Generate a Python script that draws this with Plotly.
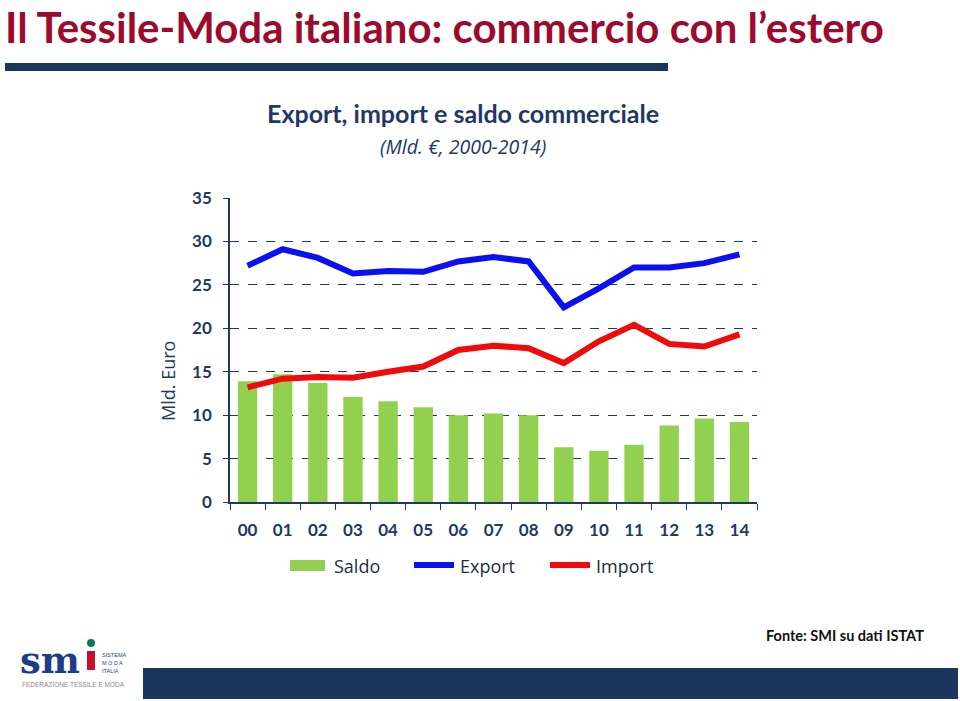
import plotly.graph_objects as go

years = ["00", "01", "02", "03", "04", "05", "06", "07", "08", "09", "10", "11", "12", "13", "14"]
saldo = [13.9, 14.7, 13.7, 12.1, 11.6, 10.9, 10.0, 10.2, 10.0, 6.3, 5.9, 6.6, 8.8, 9.6, 9.2]
export = [27.2, 29.1, 28.1, 26.3, 26.6, 26.5, 27.7, 28.2, 27.7, 22.4, 24.6, 27.0, 27.0, 27.5, 28.5]
imports = [13.2, 14.2, 14.4, 14.3, 15.0, 15.6, 17.5, 18.0, 17.7, 16.0, 18.5, 20.4, 18.2, 17.9, 19.3]
y_ticks = [0, 5, 10, 15, 20, 25, 30, 35]

NAVY = "#1F3864"
W, H = 960, 701

fig = go.Figure()
fig.add_trace(go.Bar(x=years, y=saldo, name="Saldo", marker=dict(color="#92D050", line=dict(width=0)),
                     width=0.55, showlegend=False))
fig.add_trace(go.Scatter(x=years, y=export, name="Export", mode="lines",
                         line=dict(color="#0A10F0", width=6), showlegend=False))
fig.add_trace(go.Scatter(x=years, y=imports, name="Import", mode="lines",
                         line=dict(color="#F00A0A", width=6), showlegend=False))

fig.update_layout(
    width=W, height=H,
    margin=dict(l=230, r=203, t=198, b=199),
    paper_bgcolor="white", plot_bgcolor="white",
    bargap=0.45,
    font=dict(family="Lato, Open Sans, sans-serif", color=NAVY),
)
fig.update_yaxes(
    range=[0, 35], tickvals=y_ticks, showgrid=True, gridcolor=NAVY, griddash="dash", gridwidth=1,
    showline=True, linecolor=NAVY, linewidth=1.5, ticks="outside", ticklen=5, tickcolor=NAVY,
    tickfont=dict(size=17, color=NAVY, family="Lato, sans-serif", weight="bold"),
    zeroline=False, ticklabelstandoff=8,
)
fig.update_xaxes(
    type="category", showline=True, linecolor=NAVY, linewidth=1.5, ticks="outside", ticklen=6,
    tickcolor=NAVY, tickson="boundaries", showgrid=False,
    tickfont=dict(size=17, color=NAVY, family="Lato, sans-serif", weight="bold"),
    ticklabelstandoff=12,
)


def px(x):
    return (x - 230) / 527


def py(y):
    return (502 - y) / 304


shapes = []
anns = []
# top bar and bottom bar
shapes.append(dict(type="rect", xref="paper", yref="paper", x0=px(5), x1=px(668), y0=py(71), y1=py(63),
                   fillcolor="#1A365E", line=dict(width=0), layer="above"))
shapes.append(dict(type="rect", xref="paper", yref="paper", x0=px(143), x1=px(958), y0=py(699), y1=py(668),
                   fillcolor="#1B365D", line=dict(width=0), layer="above"))

# legend
shapes.append(dict(type="rect", xref="paper", yref="paper", x0=px(290), x1=px(325), y0=py(571), y1=py(560),
                   fillcolor="#92D050", line=dict(width=0)))
shapes.append(dict(type="line", xref="paper", yref="paper", x0=px(414), x1=px(454), y0=py(565), y1=py(565),
                   line=dict(color="#0A10F0", width=6)))
shapes.append(dict(type="line", xref="paper", yref="paper", x0=px(550), x1=px(590), y0=py(565), y1=py(565),
                   line=dict(color="#F00A0A", width=6)))
for txt, x in [("Saldo", 332), ("Export", 458), ("Import", 594)]:
    anns.append(dict(text=txt, xref="paper", yref="paper", x=px(x), y=py(566), xanchor="left", yanchor="middle",
                     showarrow=False, font=dict(size=18, color="#1F2D3D", family="Open Sans, sans-serif")))

# y-axis title
anns.append(dict(text="Mld. Euro", xref="paper", yref="paper", x=px(168), y=py(381), xanchor="center",
                 yanchor="middle", textangle=-90, showarrow=False,
                 font=dict(size=18, color=NAVY, family="Open Sans, sans-serif")))

# titles
anns.append(dict(text="<b>Il Tessile-Moda italiano: commercio con l’estero</b>", xref="paper", yref="paper",
                 x=px(3), y=py(27), xanchor="left", yanchor="middle", showarrow=False,
                 font=dict(size=42, color="#9C0A2E", family="Lato, sans-serif")))
anns.append(dict(text="<b>Export, import e saldo commerciale</b>", xref="paper", yref="paper",
                 x=px(463), y=py(113), xanchor="center", yanchor="middle", showarrow=False,
                 font=dict(size=25, color=NAVY, family="Lato, sans-serif")))
anns.append(dict(text="<i>(Mld. €, 2000-2014)</i>", xref="paper", yref="paper",
                 x=px(463), y=py(146), xanchor="center", yanchor="middle", showarrow=False,
                 font=dict(size=19.5, color=NAVY, family="Open Sans, sans-serif")))
anns.append(dict(text="<b>Fonte: SMI su dati ISTAT</b>", xref="paper", yref="paper",
                 x=px(926), y=py(635), xanchor="right", yanchor="middle", showarrow=False,
                 font=dict(size=14.5, color="#111111", family="Lato, sans-serif")))

# logo
anns.append(dict(text="<b>sm</b>", xref="paper", yref="paper", x=px(18), y=py(660), xanchor="left",
                 yanchor="middle", showarrow=False,
                 font=dict(size=37, color="#1F3C88", family="DejaVu Serif, serif")))
shapes.append(dict(type="rect", xref="paper", yref="paper", x0=px(87), x1=px(95), y0=py(670), y1=py(651),
                   fillcolor="#C8102E", line=dict(width=0)))
shapes.append(dict(type="circle", xref="paper", yref="paper", x0=px(87), x1=px(95), y0=py(647), y1=py(639),
                   fillcolor="#0B7A4B", line=dict(width=0)))
for txt, y in [("SISTEMA", 655), ("M O D A", 663), ("ITALIA", 671)]:
    anns.append(dict(text=txt, xref="paper", yref="paper", x=px(100), y=py(y), xanchor="left", yanchor="middle",
                     showarrow=False, font=dict(size=5.5, color="#1F3C88", family="Liberation Sans, sans-serif")))
anns.append(dict(text="FEDERAZIONE TESSILE E MODA", xref="paper", yref="paper", x=px(20), y=py(684),
                 xanchor="left", yanchor="middle", showarrow=False,
                 font=dict(size=6.5, color="#888888", family="Liberation Sans, sans-serif")))

fig.update_layout(shapes=shapes, annotations=anns)
fig.write_html("out.html", config={"displayModeBar": False},
               post_script="document.body.style.margin='0';document.body.style.overflow='hidden';")
